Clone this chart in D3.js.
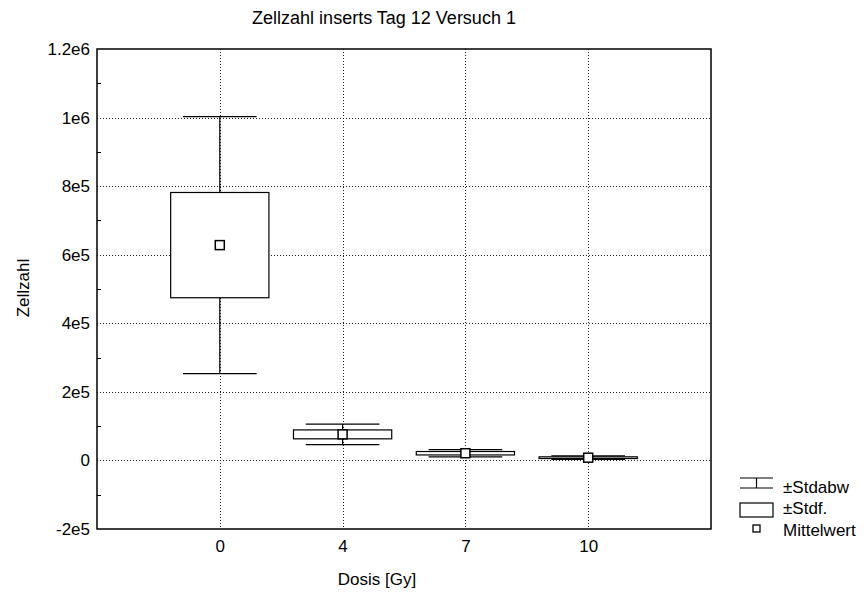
<!DOCTYPE html>
<html>
<head>
<meta charset="utf-8">
<script src="https://cdn.jsdelivr.net/npm/d3@7"></script>
<style>
  html, body { margin: 0; padding: 0; background: #fff; }
  svg { display: block; font-family: Arial, "Liberation Sans", sans-serif; }
</style>
</head>
<body>
<svg id="chart" width="866" height="595"></svg>
<script>
// ---- data ----
const categories = ["0", "4", "7", "10"];
const means = [628000, 76000, 21000, 8000];
const stdErr = [153500, 13000, 5000, 2500];
const stdDev = [375000, 30000, 10500, 5000];
const yTickValues = [-200000, 0, 200000, 400000, 600000, 800000, 1000000, 1200000];
const yTickLabels = ["-2e5", "0", "2e5", "4e5", "6e5", "8e5", "1e6", "1.2e6"];
const legendLabels = ["\u00B1Stdabw", "\u00B1Stdf.", "Mittelwert"];
const title = "Zellzahl inserts Tag 12 Versuch 1";
const xTitle = "Dosis [Gy]";
const yTitle = "Zellzahl";

// ---- layout ----
const svg = d3.select("#chart");
const L = 97, R = 711, T = 49, B = 529;
const fs = 17;
const ff = "Arial, 'Liberation Sans', sans-serif";

const x = d3.scalePoint().domain(categories).range([L, R]).padding(1);
const y = d3.scaleLinear().domain([-200000, 1200000]).range([B, T]);
const step = x.step();
const boxW = step * 0.8, capW = step * 0.6;

// gridlines
const grid = svg.append("g").attr("stroke", "#222").attr("stroke-width", 1)
  .attr("stroke-dasharray", "1,2").attr("shape-rendering", "crispEdges");
yTickValues.filter(v => v > -200000 && v < 1200000).forEach(v => {
  grid.append("line").attr("x1", L).attr("x2", R)
    .attr("y1", Math.round(y(v)) + 0.5).attr("y2", Math.round(y(v)) + 0.5);
});
categories.forEach(c => {
  grid.append("line").attr("y1", T).attr("y2", B)
    .attr("x1", Math.round(x(c)) + 0.5).attr("x2", Math.round(x(c)) + 0.5);
});

// minor ticks on left axis
const minor = svg.append("g").attr("stroke", "#000").attr("shape-rendering", "crispEdges");
d3.range(-100000, 1200000, 200000).forEach(v => {
  minor.append("line").attr("x1", L).attr("x2", L + 4)
    .attr("y1", Math.round(y(v)) + 0.5).attr("y2", Math.round(y(v)) + 0.5);
});

// axes via d3 (labels only)
const yAxis = d3.axisLeft(y).tickValues(yTickValues)
  .tickFormat((d, i) => yTickLabels[i]).tickSize(0).tickPadding(7);
const gy = svg.append("g").attr("transform", `translate(${L},0)`).call(yAxis);
gy.select(".domain").remove();
gy.selectAll("text").attr("font-size", fs).attr("fill", "#000").attr("font-family", ff);

const xAxis = d3.axisBottom(x).tickSize(0).tickPadding(11);
const gx = svg.append("g").attr("transform", `translate(0,${B})`).call(xAxis);
gx.select(".domain").remove();
gx.selectAll("text").attr("font-size", fs).attr("fill", "#000").attr("font-family", ff);

// whiskers (±SD)
const marks = svg.append("g").attr("stroke", "#000").attr("stroke-width", 1.2);
categories.forEach((c, i) => {
  const cx = x(c);
  const top = y(means[i] + stdDev[i]), bot = y(means[i] - stdDev[i]);
  marks.append("line").attr("x1", cx).attr("x2", cx).attr("y1", top).attr("y2", bot);
  marks.append("line").attr("x1", cx - capW / 2).attr("x2", cx + capW / 2).attr("y1", top).attr("y2", top);
  marks.append("line").attr("x1", cx - capW / 2).attr("x2", cx + capW / 2).attr("y1", bot).attr("y2", bot);
});
// boxes (±SE)
categories.forEach((c, i) => {
  const cx = x(c);
  const top = y(means[i] + stdErr[i]), bot = y(means[i] - stdErr[i]);
  marks.append("rect").attr("x", cx - boxW / 2).attr("y", top)
    .attr("width", boxW).attr("height", Math.max(1, bot - top))
    .attr("fill", "#fff");
});
// means
const ms = 9;
categories.forEach((c, i) => {
  marks.append("rect").attr("x", x(c) - ms / 2).attr("y", y(means[i]) - ms / 2)
    .attr("width", ms).attr("height", ms).attr("fill", "#fff").attr("stroke-width", 1.5);
});

// frame
svg.append("rect").attr("x", L).attr("y", T).attr("width", R - L).attr("height", B - T)
  .attr("fill", "none").attr("stroke", "#000").attr("stroke-width", 1.5);

// titles
svg.append("text").attr("x", 384).attr("y", 24).attr("text-anchor", "middle")
  .attr("font-size", 18).text(title);
svg.append("text").attr("x", (L + R) / 2 - 27).attr("y", 585).attr("text-anchor", "middle")
  .attr("font-size", fs).text(xTitle);
svg.append("text").attr("transform", `translate(29,288) rotate(-90)`)
  .attr("text-anchor", "middle").attr("font-size", fs).text(yTitle);

// legend
const lg = svg.append("g").attr("stroke", "#000").attr("stroke-width", 1.2);
const lx0 = 740, lx1 = 773, lmid = (lx0 + lx1) / 2;
lg.append("line").attr("x1", lx0).attr("x2", lx1).attr("y1", 478).attr("y2", 478);
lg.append("line").attr("x1", lx0).attr("x2", lx1).attr("y1", 488).attr("y2", 488);
lg.append("line").attr("x1", lmid).attr("x2", lmid).attr("y1", 478).attr("y2", 488);
lg.append("rect").attr("x", lx0).attr("y", 503).attr("width", lx1 - lx0).attr("height", 14).attr("fill", "#fff");
lg.append("rect").attr("x", lmid - 3.5).attr("y", 525).attr("width", 7).attr("height", 7)
  .attr("fill", "#fff").attr("stroke-width", 1.3);
legendLabels.forEach((t, i) => {
  svg.append("text").attr("x", 783).attr("y", 490 + i * 21.5 + 1)
    .attr("font-size", fs).attr("dy", "0.1em").text(t);
});
</script>
</body>
</html>
